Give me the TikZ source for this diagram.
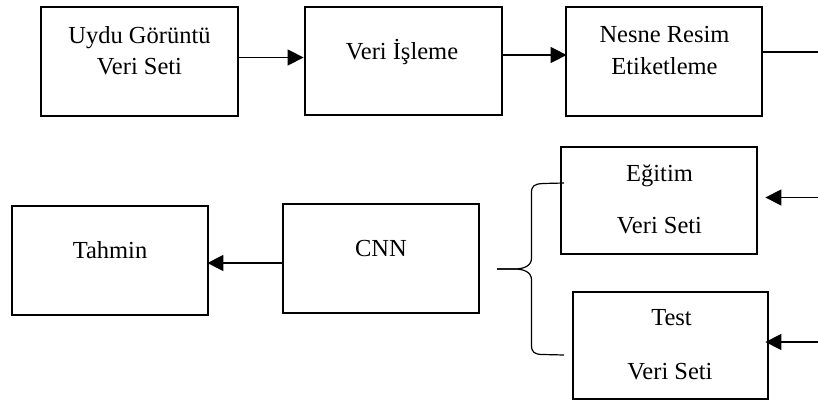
\documentclass[tikz,border=0pt]{standalone}
\usepackage{fontspec}
\setmainfont{Liberation Serif}
\usetikzlibrary{arrows.meta}
\begin{document}
\begin{tikzpicture}[x=1pt,y=-1pt,
  box/.style={draw,line width=2.8pt,inner sep=0pt},
  txt/.style={font=\fontsize{24.5}{29}\selectfont,inner sep=0pt,anchor=base},
  conn/.style={line width=1.5pt,-{Triangle[length=16pt,width=16pt]}},
  plain/.style={line width=1.5pt},
  brace/.style={line width=1.2pt}]
\useasboundingbox (0,0) rectangle (818,403);
% boxes
\node[box,minimum width=197pt,minimum height=109pt] (b1) at (139.5,61.5) {};
\node[box,minimum width=197pt,minimum height=108pt] (b2) at (403.5,61) {};
\node[box,minimum width=196pt,minimum height=109pt] (b3) at (664,61.5) {};
\node[box,minimum width=196pt,minimum height=109pt] (tah) at (110,260.5) {};
\node[box,minimum width=196pt,minimum height=109pt] (cnn) at (381,258.5) {};
\node[box,minimum width=196pt,minimum height=107pt] (eg) at (659,200.5) {};
\node[box,minimum width=195pt,minimum height=107pt] (te) at (670.5,345.5) {};
% texts
\node[txt] (t1a) at (139.5,44) {Uydu Görüntü};
\node[txt] (t1b) at (139.5,75) {Veri Seti};
\node[txt] (t2) at (402,60) {Veri İşleme};
\node[txt] (t3a) at (664.5,43) {Nesne Resim};
\node[txt] (t3b) at (664.5,75) {Etiketleme};
\node[txt] (t4) at (110,258) {Tahmin};
\node[txt] (t5) at (381,256) {CNN};
\node[txt] (t6a) at (659.5,181.5) {Eğitim};
\node[txt] (t6b) at (659.5,233.5) {Veri Seti};
\node[txt] (t7a) at (671.5,325) {Test};
\node[txt] (t7b) at (670,379) {Veri Seti};
% connectors
\draw[conn] ([yshift=4pt]b1.east) -- ([yshift=4pt]b1.east -| b2.west);
\draw[conn] ([yshift=6pt]b2.east) -- ([yshift=6pt,xshift=2pt]b2.east -| b3.west);
\coordinate (e1) at (818,52);
\draw[plain] (b3.east |- e1) -- (e1);
\draw[conn] ([yshift=-4.5pt]cnn.west) -- ([yshift=-4.5pt,xshift=-2pt]cnn.west -| tah.east);
\coordinate (in1) at (818,197.5);
\coordinate (in2) at (818,342);
\draw[conn] (in1) -- ([xshift=7pt]eg.east |- in1);
\draw[conn] (in2) -- ([xshift=-4pt]te.east |- in2);
% brace
\coordinate (btop) at (564,183);
\coordinate (bbot) at (564,355);
\coordinate (btip) at (497,269);
\draw[brace] (btop) -- (543,183.5) .. controls (534,184) and (531.5,186) .. (531.5,193)
  -- (531.5,258) .. controls (531.5,266) and (524,269) .. (514,269) -- (btip);
\draw[brace] (btip) -- (514,269) .. controls (524,269) and (531.5,272) .. (531.5,280)
  -- (531.5,345) .. controls (531.5,352) and (534,354.5) .. (543,354.5) -- (bbot);
\end{tikzpicture}
\end{document}
